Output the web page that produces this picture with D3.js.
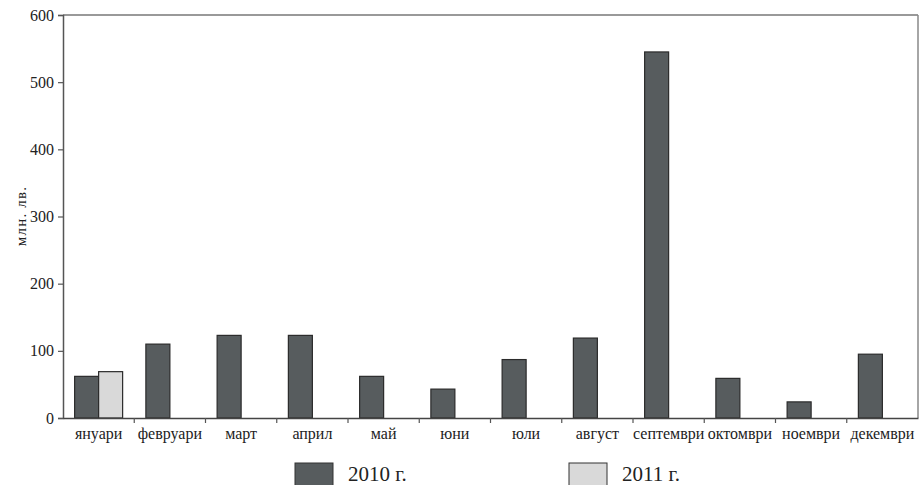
<!DOCTYPE html>
<html><head><meta charset="utf-8">
<script src="https://cdn.jsdelivr.net/npm/d3@7"></script>
<style>body{margin:0;background:#fff}svg{display:block}</style>
</head><body><svg id="c" width="920" height="485" style="font-family:'Liberation Serif',serif"></svg>
<script>
const months = ["януари","февруари","март","април","май","юни","юли","август","септември","октомври","ноември","декември"];
const series = ["2010 г.","2011 г."];
const values2010 = [62,110,123,123,62,43,87,119,545,59,24,95];
const values2011 = [69,null,null,null,null,null,null,null,null,null,null,null];
const yTicks = [0,100,200,300,400,500,600];
const colors = ["#575c5e","#d9d9d9"];
const FONT = "'Liberation Serif', serif";

const svg = d3.select("#c");
const L=63, R=918, T=15, B=418;
const x = d3.scaleBand().domain(months).range([L,R]);
const y = d3.scaleLinear().domain([0,600]).range([B,T]);
const sub = d3.scaleBand().domain([0,1]).range([0,48]);

svg.append("line").attr("x1",L).attr("x2",R).attr("y1",T).attr("y2",T).attr("stroke","#777").attr("stroke-width",1.5);
svg.append("line").attr("x1",R).attr("x2",R).attr("y1",T).attr("y2",B).attr("stroke","#888").attr("stroke-width",1.5);

const data = [];
months.forEach((m,i)=>{
  [values2010[i],values2011[i]].forEach((v,k)=>{ if(v!=null) data.push({m,k,v}); });
});
svg.selectAll("rect.bar").data(data).join("rect").attr("class","bar")
  .attr("x",d=>x(d.m)+(x.bandwidth()-48)/2+sub(d.k))
  .attr("width",sub.bandwidth())
  .attr("y",d=>y(d.v)).attr("height",d=>y(0)-y(d.v))
  .attr("fill",d=>colors[d.k]).attr("stroke","#2b2b2b").attr("stroke-width",1.2);

const ya = svg.append("g").attr("transform",`translate(${L},0)`)
  .call(d3.axisLeft(y).tickValues(yTicks).tickSize(5).tickPadding(4));
ya.attr("font-family",null);
ya.select(".domain").attr("stroke","#555").attr("stroke-width",1.5);
ya.selectAll(".tick line").attr("stroke","#555").attr("stroke-width",1.2);
ya.selectAll(".tick text").style("font-family",FONT).style("font-size","16px").attr("fill","#222");

const xa = svg.append("g").attr("transform",`translate(0,${B})`)
  .call(d3.axisBottom(x).tickSize(0).tickPadding(10));
xa.attr("font-family",null);
xa.select(".domain").attr("stroke","#444").attr("stroke-width",1.5);
xa.selectAll(".tick text").style("font-family",FONT).style("font-size","16px").attr("fill","#222");
svg.selectAll("line.sep").data(months.slice(1)).join("line").attr("class","sep")
  .attr("x1",d=>x(d)).attr("x2",d=>x(d)).attr("y1",B).attr("y2",B+5)
  .attr("stroke","#555").attr("stroke-width",1.2);

svg.append("text").attr("transform","translate(26,216) rotate(-90)")
  .attr("text-anchor","middle").style("font-family",FONT).style("font-size","15px")
  .style("letter-spacing","1.2px").attr("fill","#222").text("млн. лв.");

const lg = [{x:295,tx:348},{x:569,tx:622}];
series.forEach((s,i)=>{
  svg.append("rect").attr("x",lg[i].x).attr("y",463).attr("width",38).attr("height",24)
    .attr("fill",colors[i]).attr("stroke","#333").attr("stroke-width",1);
  svg.append("text").attr("x",lg[i].tx).attr("y",481).style("font-family",FONT).style("font-size","21px").attr("fill","#222").text(s);
});
</script></body></html>
